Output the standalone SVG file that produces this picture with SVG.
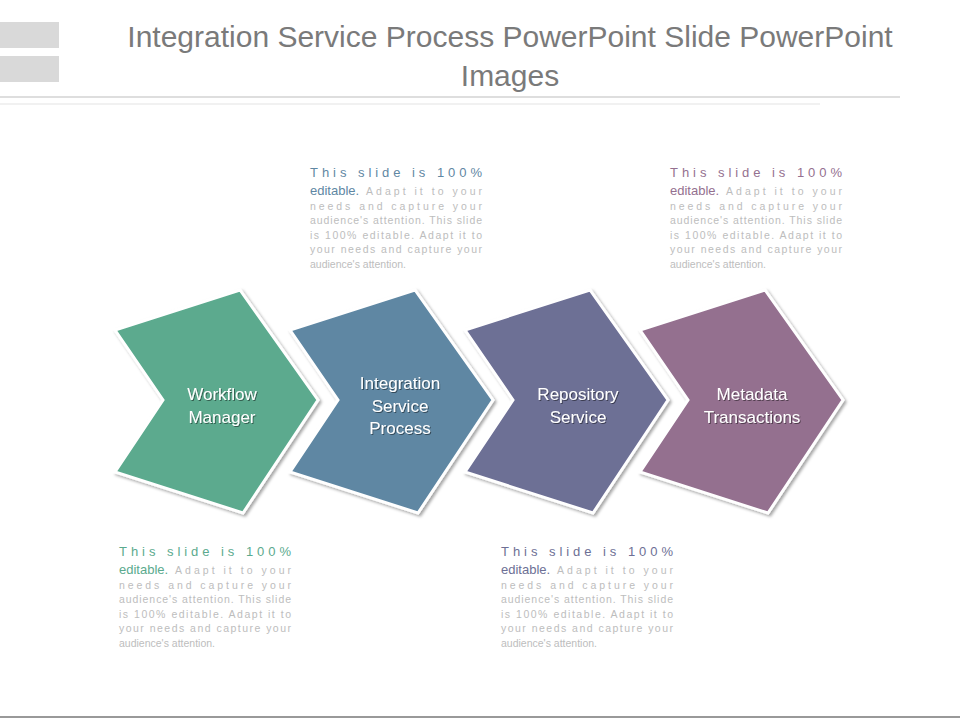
<svg xmlns="http://www.w3.org/2000/svg" width="960" height="720" viewBox="0 0 960 720">
<style>
.t{font-family:"Liberation Sans",Arial,sans-serif}
.h{font-size:13px}
.s{font-size:10.5px;fill:#bdbdbd}
.lbl{font-family:"Liberation Sans",Arial,sans-serif;font-size:17px;fill:#fff;text-anchor:middle;filter:url(#ts)}
.chev{stroke:#fff;stroke-width:3;filter:url(#sh)}
</style>
<defs>
<filter id="sh" x="-10%" y="-10%" width="130%" height="130%"><feDropShadow dx="2" dy="2" stdDeviation="1.5" flood-color="#000" flood-opacity="0.35"/></filter>
<filter id="ts"><feDropShadow dx="1" dy="1" stdDeviation="0.6" flood-color="#000" flood-opacity="0.45"/></filter>
<path id="cv" d="M0,40 L125,0 L203,110 L128,223 L0,182 L48,110 Z"/>
</defs>
<rect width="960" height="720" fill="#fff"/>
<rect x="0" y="22" width="59" height="26" fill="#d9d9d9"/>
<rect x="0" y="56" width="59" height="26" fill="#d9d9d9"/>
<text class="t" x="510" y="47" font-size="30" fill="#7a7a7a" text-anchor="middle">Integration Service Process PowerPoint Slide PowerPoint</text>
<text class="t" x="510" y="86" font-size="30" fill="#7a7a7a" text-anchor="middle">Images</text>
<line x1="0" y1="97" x2="900" y2="97" stroke="#bdbdbd"/>
<line x1="0" y1="104" x2="820" y2="104" stroke="#e3e3e3"/>
<line x1="0" y1="717" x2="960" y2="717" stroke="#999" stroke-width="2"/>

<g id="node1"><use href="#cv" x="115" y="290" class="chev" fill="#5BAA8E"/><text class="lbl" x="222" y="400">Workflow</text><text class="lbl" x="222" y="423">Manager</text></g>
<g id="node2"><use href="#cv" x="290" y="290" class="chev" fill="#5F87A3"/><text class="lbl" x="400" y="389">Integration</text><text class="lbl" x="400" y="412">Service</text><text class="lbl" x="400" y="434">Process</text></g>
<g id="node3"><use href="#cv" x="465" y="290" class="chev" fill="#6D6F95"/><text class="lbl" x="578" y="400">Repository</text><text class="lbl" x="578" y="423">Service</text></g>
<g id="node4"><use href="#cv" x="640" y="290" class="chev" fill="#94708F"/><text class="lbl" x="752" y="400">Metadata</text><text class="lbl" x="752" y="423">Transactions</text></g>

<g id="text1" class="t" transform="translate(310,177)" fill="#5F87A3">
<text class="h" y="0" textLength="172" lengthAdjust="spacing">This slide is 100%</text>
<text class="h" y="18">editable.</text><text class="s" x="56" y="18" textLength="116" lengthAdjust="spacing">Adapt it to your</text>
<text class="s" y="33" textLength="172" lengthAdjust="spacing">needs and capture your</text>
<text class="s" y="47" textLength="172" lengthAdjust="spacing">audience's attention. This slide</text>
<text class="s" y="62" textLength="172" lengthAdjust="spacing">is 100% editable. Adapt it to</text>
<text class="s" y="76" textLength="172" lengthAdjust="spacing">your needs and capture your</text>
<text class="s" y="91">audience's attention.</text>
</g>
<g id="text2" class="t" transform="translate(670,177)" fill="#94708F">
<text class="h" y="0" textLength="172" lengthAdjust="spacing">This slide is 100%</text>
<text class="h" y="18">editable.</text><text class="s" x="56" y="18" textLength="116" lengthAdjust="spacing">Adapt it to your</text>
<text class="s" y="33" textLength="172" lengthAdjust="spacing">needs and capture your</text>
<text class="s" y="47" textLength="172" lengthAdjust="spacing">audience's attention. This slide</text>
<text class="s" y="62" textLength="172" lengthAdjust="spacing">is 100% editable. Adapt it to</text>
<text class="s" y="76" textLength="172" lengthAdjust="spacing">your needs and capture your</text>
<text class="s" y="91">audience's attention.</text>
</g>
<g id="text3" class="t" transform="translate(119,556)" fill="#5BAA8E">
<text class="h" y="0" textLength="172" lengthAdjust="spacing">This slide is 100%</text>
<text class="h" y="18">editable.</text><text class="s" x="56" y="18" textLength="116" lengthAdjust="spacing">Adapt it to your</text>
<text class="s" y="33" textLength="172" lengthAdjust="spacing">needs and capture your</text>
<text class="s" y="47" textLength="172" lengthAdjust="spacing">audience's attention. This slide</text>
<text class="s" y="62" textLength="172" lengthAdjust="spacing">is 100% editable. Adapt it to</text>
<text class="s" y="76" textLength="172" lengthAdjust="spacing">your needs and capture your</text>
<text class="s" y="91">audience's attention.</text>
</g>
<g id="text4" class="t" transform="translate(501,556)" fill="#6D6F95">
<text class="h" y="0" textLength="172" lengthAdjust="spacing">This slide is 100%</text>
<text class="h" y="18">editable.</text><text class="s" x="56" y="18" textLength="116" lengthAdjust="spacing">Adapt it to your</text>
<text class="s" y="33" textLength="172" lengthAdjust="spacing">needs and capture your</text>
<text class="s" y="47" textLength="172" lengthAdjust="spacing">audience's attention. This slide</text>
<text class="s" y="62" textLength="172" lengthAdjust="spacing">is 100% editable. Adapt it to</text>
<text class="s" y="76" textLength="172" lengthAdjust="spacing">your needs and capture your</text>
<text class="s" y="91">audience's attention.</text>
</g>
<g id="connectors"/>
</svg>
